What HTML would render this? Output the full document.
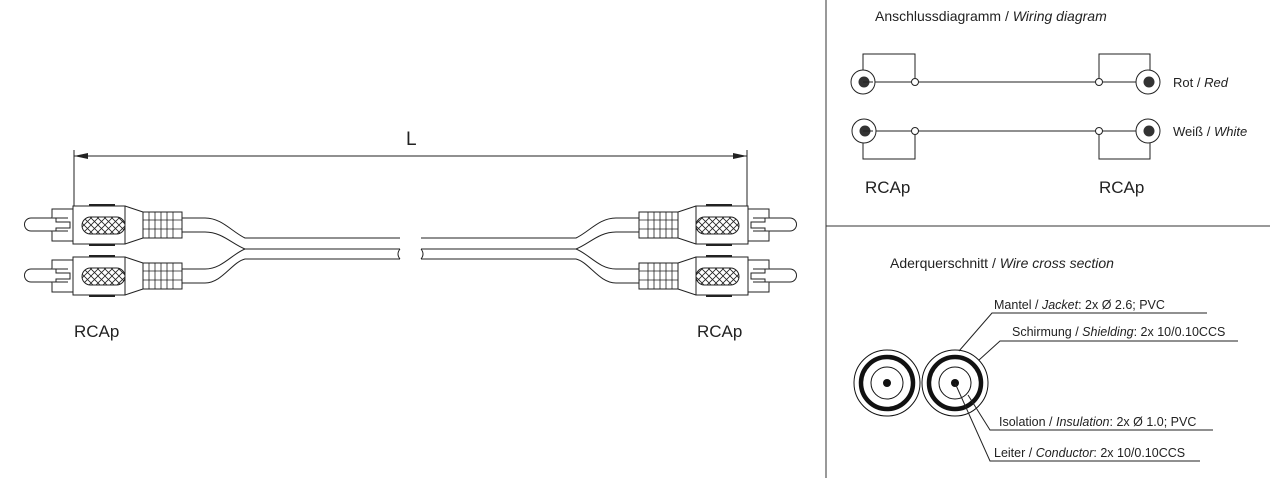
<!DOCTYPE html>
<html><head><meta charset="utf-8"><style>
html,body{margin:0;padding:0;background:#fff;}
svg{display:block;}
text{font-family:"Liberation Sans",Arial,sans-serif;fill:#222;}
</style></head><body>
<svg width="1270" height="478" viewBox="0 0 1270 478" xmlns="http://www.w3.org/2000/svg">
<defs>
<pattern id="hatch" width="7" height="7" patternUnits="userSpaceOnUse">
<path d="M0 0L7 7M7 0L0 7" stroke="#222" stroke-width="0.8"/>
</pattern>
<g id="plug" fill="#fff" stroke="#222" stroke-width="1">
<path d="M68 -7 H31 A6.5 6.5 0 0 0 31 6 H68"/>
<path d="M73 -16 H52 V-7 M52 6 V16 H73 M56 -7 V-3 H70 V3 H56 V6"/>
<rect x="73" y="-19" width="52" height="38"/>
<line x1="89" y1="-20" x2="115" y2="-20" stroke-width="2"/>
<line x1="89" y1="20" x2="115" y2="20" stroke-width="2"/>
<rect x="82" y="-8" width="43" height="17" rx="8.5" fill="url(#hatch)"/>
<path d="M125 -19 L143 -13 M125 19 L143 13"/>
<rect x="143" y="-13" width="39" height="26"/>
<path d="M149 -13V13M155 -13V13M161 -13V13M167 -13V13M173 -13V13M143 -5H182M143 4H182" stroke-width="0.8"/>
</g>
<g id="half" fill="none" stroke="#222" stroke-width="1">
<use href="#plug" transform="translate(0,225)"/>
<use href="#plug" transform="translate(0,276)"/>
<path d="M182 218 H205 C222 218 232 232 245 238 H400"/>
<path d="M182 232 H205 C222 232 232 244 245 249 H400"/>
<path d="M182 269 H205 C222 269 232 254 245 249"/>
<path d="M182 283 H205 C222 283 232 262 245 259 H400"/>
<path d="M400 249 Q396 254 400 259"/>
</g>
</defs>

<use href="#half"/>
<use href="#half" transform="translate(821,0) scale(-1,1)"/>

<g stroke="#222" stroke-width="1">
<line x1="74" y1="150" x2="74" y2="206"/>
<line x1="747" y1="150" x2="747" y2="206"/>
<line x1="74" y1="156" x2="747" y2="156"/>
</g>
<path d="M74 156 L88 153 L88 159Z" fill="#222"/>
<path d="M747 156 L733 153 L733 159Z" fill="#222"/>
<text x="406" y="145" font-size="19">L</text>
<text x="74" y="337" font-size="17">RCAp</text>
<text x="697" y="337" font-size="17">RCAp</text>

<line x1="826" y1="0" x2="826" y2="478" stroke="#333" stroke-width="1"/>
<line x1="826" y1="226" x2="1270" y2="226" stroke="#333" stroke-width="1"/>

<text x="875" y="21" font-size="14">Anschlussdiagramm / <tspan font-style="italic">Wiring diagram</tspan></text>
<g fill="none" stroke="#222" stroke-width="1">
<line x1="863" y1="82" x2="1147" y2="82"/>
<line x1="863" y1="131" x2="1147" y2="131"/>
<path d="M863 70 V54 H915 V79"/>
<path d="M1099 79 V54 H1150 V70"/>
<path d="M863 143 V159 H915 V134"/>
<path d="M1099 134 V159 H1150 V143"/>
<circle cx="863" cy="82" r="12" fill="#fff"/>
<circle cx="1148" cy="82" r="12" fill="#fff"/>
<circle cx="864" cy="131" r="12" fill="#fff"/>
<circle cx="1148" cy="131" r="12" fill="#fff"/>
<circle cx="915" cy="82" r="3.5" fill="#fff"/>
<circle cx="1099" cy="82" r="3.5" fill="#fff"/>
<circle cx="915" cy="131" r="3.5" fill="#fff"/>
<circle cx="1099" cy="131" r="3.5" fill="#fff"/>
</g>
<g fill="#333">
<circle cx="864" cy="82" r="5.5"/><circle cx="1149" cy="82" r="5.5"/>
<circle cx="865" cy="131" r="5.5"/><circle cx="1149" cy="131" r="5.5"/>
</g>
<line x1="863" y1="82" x2="873" y2="82" stroke="#222"/>
<line x1="863" y1="131" x2="873" y2="131" stroke="#222"/>
<text x="1173" y="87" font-size="13">Rot / <tspan font-style="italic">Red</tspan></text>
<text x="1173" y="136" font-size="13">Weiß / <tspan font-style="italic">White</tspan></text>
<text x="865" y="193" font-size="17">RCAp</text>
<text x="1099" y="193" font-size="17">RCAp</text>

<text x="890" y="268" font-size="14">Aderquerschnitt / <tspan font-style="italic">Wire cross section</tspan></text>
<g fill="none" stroke="#111">
<circle cx="887" cy="383" r="33" stroke-width="1"/>
<circle cx="887" cy="383" r="26" stroke-width="4.5"/>
<circle cx="887" cy="383" r="16" stroke-width="1"/>
<circle cx="955" cy="383" r="33" stroke-width="1"/>
<circle cx="955" cy="383" r="26" stroke-width="4.5"/>
<circle cx="955" cy="383" r="16" stroke-width="1"/>
</g>
<circle cx="887" cy="383" r="4" fill="#111"/>
<circle cx="955" cy="383" r="4" fill="#111"/>
<g stroke="#222" stroke-width="1" fill="none">
<path d="M959 351 L992 313 H1207"/>
<path d="M979 360 L1000 341 H1238"/>
<path d="M968 395 L990 430 H1213"/>
<path d="M955 383 L990 461 H1200"/>
</g>
<g font-size="12.5">
<text x="994" y="309">Mantel / <tspan font-style="italic">Jacket</tspan>: 2x Ø 2.6; PVC</text>
<text x="1012" y="336">Schirmung / <tspan font-style="italic">Shielding</tspan>: 2x 10/0.10CCS</text>
<text x="999" y="426">Isolation / <tspan font-style="italic">Insulation</tspan>: 2x Ø 1.0; PVC</text>
<text x="994" y="457">Leiter / <tspan font-style="italic">Conductor</tspan>: 2x 10/0.10CCS</text>
</g>
</svg>
</body></html>
